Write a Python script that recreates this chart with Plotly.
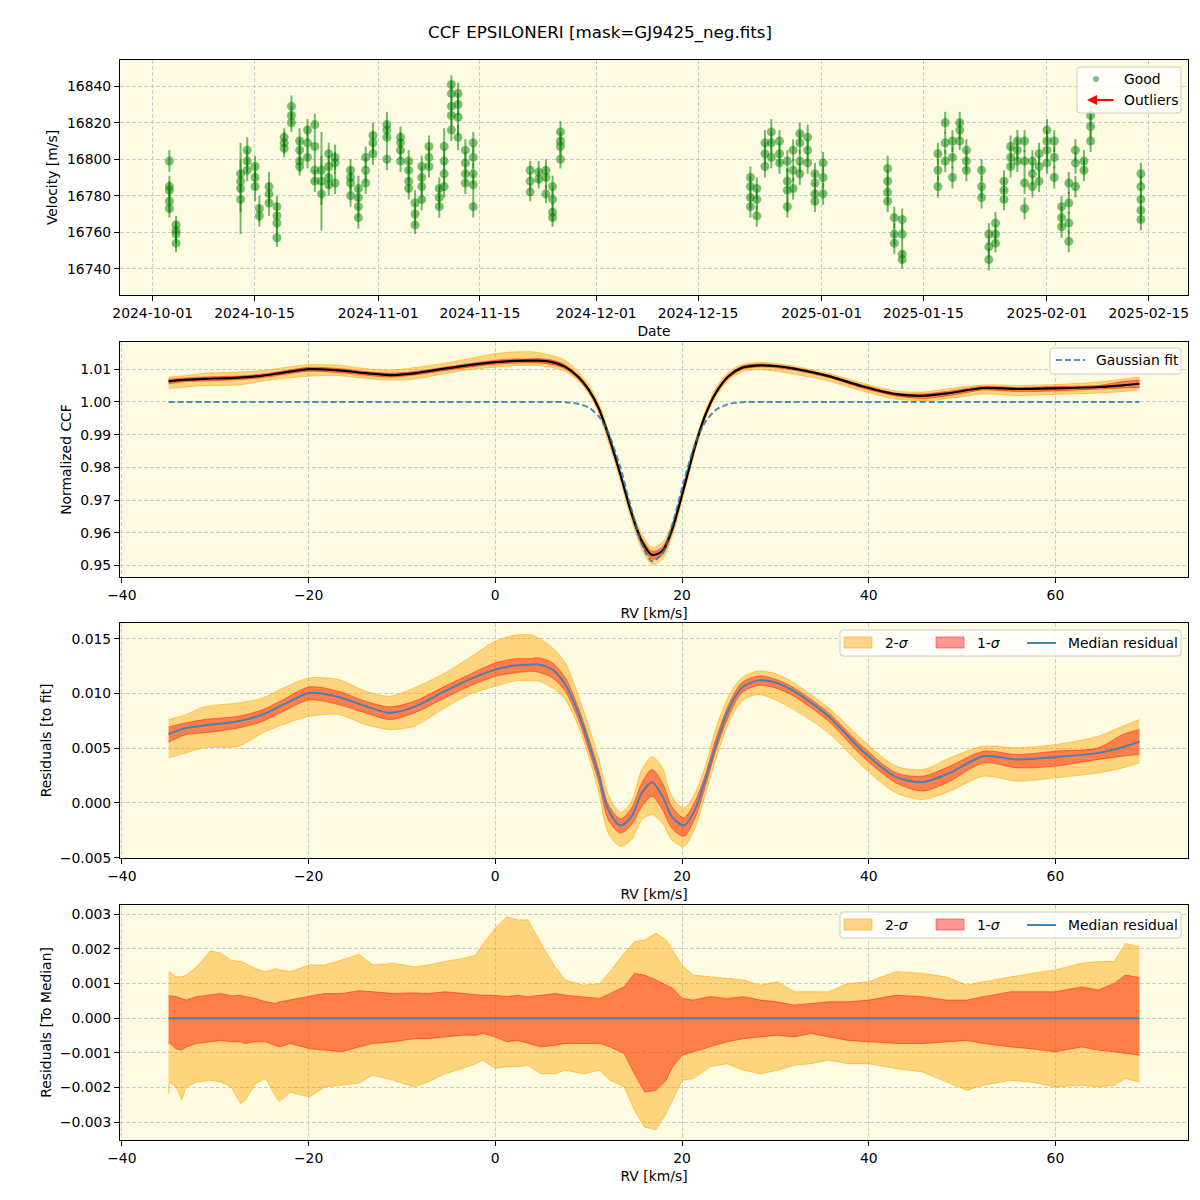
import plotly.graph_objects as go

# ---------------------------------------------------------------- data
TITLE = "CCF EPSILONERI [mask=GJ9425_neg.fits]"

night_dates = [
    "2024-10-03 07:00", "2024-10-04 05:00", "2024-10-13 02:00", "2024-10-14 00:00",
    "2024-10-15 02:00", "2024-10-15 16:00", "2024-10-17 00:00", "2024-10-18 02:00",
    "2024-10-19 02:00", "2024-10-20 02:00", "2024-10-21 05:00", "2024-10-22 07:00",
    "2024-10-23 07:00", "2024-10-24 05:00", "2024-10-25 05:00", "2024-10-26 02:00",
    "2024-10-28 05:00", "2024-10-29 07:00", "2024-10-30 07:00", "2024-10-31 07:00",
    "2024-11-02 05:00", "2024-11-04 02:00", "2024-11-05 05:00", "2024-11-06 02:00",
    "2024-11-07 00:00", "2024-11-08 00:00", "2024-11-09 10:00", "2024-11-10 02:00",
    "2024-11-11 02:00", "2024-11-12 00:00", "2024-11-13 00:00", "2024-11-14 02:00",
    "2024-11-21 22:00", "2024-11-23 02:00", "2024-11-24 02:00", "2024-11-25 00:00",
    "2024-11-26 02:00",
    "2024-12-22 05:00", "2024-12-23 02:00", "2024-12-24 05:00", "2024-12-25 02:00",
    "2024-12-26 05:00", "2024-12-27 07:00", "2024-12-28 02:00", "2024-12-29 00:00",
    "2024-12-30 02:00", "2024-12-31 02:00", "2025-01-01 05:00",
    "2025-01-10 02:00", "2025-01-11 00:00", "2025-01-12 02:00",
    "2025-01-17 00:00", "2025-01-18 00:00", "2025-01-19 00:00", "2025-01-20 00:00",
    "2025-01-20 22:00", "2025-01-23 00:00", "2025-01-24 00:00", "2025-01-24 22:00",
    "2025-01-26 02:00", "2025-01-27 00:00", "2025-01-27 22:00", "2025-01-28 22:00",
    "2025-01-30 00:00", "2025-01-30 22:00", "2025-02-01 00:00", "2025-02-02 00:00",
    "2025-02-03 00:00", "2025-02-04 00:00", "2025-02-04 22:00", "2025-02-06 02:00",
    "2025-02-07 00:00", "2025-02-13 22:00",
]

night_rv = [
    [16799, 16785, 16783, 16777, 16773], [16764, 16761, 16759, 16754],
    [16792, 16788, 16784, 16778], [16805, 16799, 16794],
    [16796, 16790, 16785], [16773, 16769], [16785, 16781, 16776],
    [16774, 16769, 16765, 16757], [16812, 16809, 16806], [16829, 16824, 16820],
    [16810, 16805, 16799, 16796], [16816, 16809, 16801], [16819, 16807, 16794, 16788],
    [16794, 16788, 16781], [16803, 16796, 16790, 16786], [16801, 16798, 16787],
    [16794, 16790, 16787, 16780], [16784, 16779, 16774, 16768], [16801, 16794, 16787],
    [16813, 16809, 16803], [16819, 16816, 16812, 16800], [16812, 16809, 16805, 16799],
    [16799, 16794, 16788, 16784], [16776, 16770, 16764], [16796, 16790, 16785, 16778],
    [16807, 16801, 16796], [16784, 16779, 16774], [16807, 16799, 16792, 16785],
    [16841, 16836, 16829, 16824, 16816], [16836, 16830, 16823, 16812],
    [16805, 16798, 16792, 16787], [16809, 16801, 16792, 16786, 16774],
    [16794, 16788, 16782], [16793, 16789], [16794, 16790, 16781],
    [16785, 16778, 16771, 16768], [16815, 16810, 16807, 16800],
    [16790, 16785, 16779, 16774], [16784, 16778, 16769], [16809, 16803, 16796],
    [16815, 16809, 16801], [16810, 16803, 16798], [16799, 16788, 16783, 16774],
    [16805, 16794, 16784], [16814, 16809, 16799, 16792], [16812, 16805, 16798],
    [16792, 16787, 16781, 16777], [16798, 16790, 16781],
    [16795, 16788, 16782, 16777], [16768, 16759, 16754], [16767, 16759, 16748, 16745],
    [16803, 16794, 16785], [16820, 16809, 16799], [16810, 16801, 16790],
    [16820, 16816, 16810], [16805, 16799, 16794], [16794, 16785, 16779],
    [16759, 16752, 16745], [16765, 16759, 16754], [16788, 16783, 16778],
    [16807, 16801, 16796], [16810, 16805, 16799], [16810, 16799, 16787, 16773],
    [16799, 16792, 16785], [16803, 16796, 16788], [16816, 16810, 16805, 16798],
    [16810, 16801, 16790], [16774, 16768, 16763], [16787, 16776, 16765, 16755],
    [16805, 16798, 16785], [16799, 16794], [16824, 16818, 16810],
    [16792, 16785, 16778, 16772, 16767],
]

night_err = [
    [6, 6, 5, 6, 5], [5, 5, 5, 5], [8, 6, 25, 7], [7, 6, 6], [6, 7, 8], [7, 6],
    [8, 6, 7], [6, 7, 6, 5], [5, 6, 5], [6, 5, 5], [7, 6, 6, 5], [6, 9, 6],
    [6, 6, 7, 6], [8, 27, 6], [6, 6, 6, 6], [7, 6, 6], [6, 6, 6, 6], [7, 6, 6, 6],
    [6, 7, 6], [7, 6, 6], [7, 5, 6, 6], [6, 6, 5, 6], [6, 6, 6, 6], [7, 6, 5],
    [6, 6, 6, 6], [6, 6, 6], [6, 6, 6], [10, 7, 6, 6], [5, 6, 6, 6, 6], [6, 6, 10, 7],
    [6, 6, 6, 6], [6, 6, 6, 6, 6], [5, 5, 5], [6, 5], [6, 6, 5], [6, 6, 5, 5],
    [6, 5, 5, 5],
    [6, 6, 6, 6], [6, 6, 6], [7, 6, 6], [7, 6, 6], [6, 6, 6], [6, 7, 12, 6],
    [6, 6, 6], [6, 6, 6, 6], [7, 6, 6], [6, 6, 6, 6], [6, 6, 6],
    [7, 6, 6, 6], [6, 6, 6], [6, 6, 5, 5],
    [6, 6, 6], [6, 6, 6], [6, 6, 6], [6, 5, 5], [6, 6, 6], [6, 6, 6], [6, 6, 6],
    [6, 5, 5], [6, 6, 6], [6, 6, 6], [6, 6, 6], [6, 6, 6, 6], [6, 6, 6], [6, 6, 6],
    [6, 6, 6, 6], [6, 6, 6], [6, 6, 6], [6, 6, 6, 6], [6, 6, 6], [6, 6], [6, 6, 6],
    [6, 6, 6, 6, 6],
]

date_ticks = ["2024-10-01", "2024-10-15", "2024-11-01", "2024-11-15", "2024-12-01",
              "2024-12-15", "2025-01-01", "2025-01-15", "2025-02-01", "2025-02-15"]

# RV grid (km/s) for CCF and residual-to-fit panels
rv_grid = [-35.0, -33.1, -31.2, -27.5, -24.9, -22.7, -19.9, -16.8, -13.9, -11.3,
           -8.7, -5.4, -2.8, 0.0, 2.0, 3.8, 4.6, 6.1, 7.5, 8.9,
           10.0, 11.1, 12.1, 13.4, 14.6, 15.7, 16.8, 17.9, 18.9, 20.2,
           21.4, 22.5, 23.6, 25.0, 26.4, 28.2, 30.0, 32.0, 35.7, 39.3,
           42.9, 45.8, 48.7, 52.3, 55.9, 60.0, 64.6, 67.2, 69.0]

gauss_fit = [1.0, 1.0, 1.0, 1.0, 1.0, 1.0, 1.0, 1.0, 1.0, 1.0,
             1.0, 1.0, 1.0, 1.0, 1.0, 1.0, 1.0, 1.0, 0.9999, 0.9994,
             0.9983, 0.9955, 0.9906, 0.9799, 0.9671, 0.9565, 0.9513, 0.9538, 0.9619, 0.9758,
             0.9871, 0.9939, 0.9975, 0.9994, 0.9999, 1.0, 1.0, 1.0, 1.0, 1.0,
             1.0, 1.0, 1.0, 1.0, 1.0, 1.0, 1.0, 1.0, 1.0]

res_med = [0.00631, 0.00685, 0.00707, 0.00746, 0.00807, 0.00898, 0.01004, 0.00968, 0.00883, 0.00822,
           0.00877, 0.0102, 0.01126, 0.01217, 0.01254, 0.01263, 0.01265, 0.0122, 0.01082, 0.00823,
           0.00549, 0.00244, -0.00061, -0.00207, -0.00122, 0.00091, 0.00189, 0.00061, -0.00122, -0.00207,
           -0.00061, 0.00213, 0.00518, 0.00854, 0.01052, 0.01119, 0.0110, 0.0102, 0.00792, 0.00479,
           0.00238, 0.0019, 0.00275, 0.00427, 0.00397, 0.00418, 0.00457, 0.00509, 0.00558]

res_1s_hi = [0.00694, 0.00731, 0.00761, 0.00792, 0.00852, 0.00944, 0.0106, 0.0102, 0.00928, 0.00877,
             0.00928, 0.01065, 0.01172, 0.01278, 0.01315, 0.01318, 0.01326, 0.0128, 0.01143, 0.00869,
             0.00594, 0.0029, -0.00015, -0.00146, -0.00046, 0.00183, 0.00305, 0.00183, -0.00031, -0.00137,
             0.00015, 0.00259, 0.00579, 0.00899, 0.01098, 0.01159, 0.0113, 0.0105, 0.00822, 0.00518,
             0.00275, 0.00244, 0.00336, 0.00472, 0.00442, 0.00472, 0.00503, 0.00624, 0.0067]

res_1s_lo = [0.00555, 0.00624, 0.0064, 0.00685, 0.00746, 0.00837, 0.0094, 0.00898, 0.00822, 0.00761,
             0.00822, 0.00959, 0.01065, 0.01156, 0.01187, 0.01202, 0.01195, 0.01143, 0.01021, 0.00762,
             0.00488, 0.00183, -0.00153, -0.00275, -0.00198, -0.00031, 0.00061, -0.00061, -0.00229, -0.00305,
             -0.00137, 0.00152, 0.00472, 0.00793, 0.01006, 0.01073, 0.0105, 0.00974, 0.00746, 0.00427,
             0.00184, 0.00108, 0.00199, 0.00366, 0.0032, 0.00336, 0.00397, 0.00427, 0.00442]

res_2s_hi = [0.00761, 0.00807, 0.00877, 0.00913, 0.00959, 0.0105, 0.01141, 0.01126, 0.0102, 0.00974,
             0.0105, 0.01187, 0.01324, 0.01476, 0.0153, 0.01536, 0.01509, 0.01418, 0.0128, 0.00976,
             0.00701, 0.00396, 0.00076, -0.00085, 0.00015, 0.00305, 0.00421, 0.0032, 0.00061, -0.00046,
             0.00091, 0.00335, 0.00671, 0.00976, 0.01143, 0.01204, 0.0118, 0.01096, 0.00868, 0.00579,
             0.00336, 0.00305, 0.00412, 0.00518, 0.00503, 0.00533, 0.00609, 0.007, 0.00761]

res_2s_lo = [0.00412, 0.00457, 0.00503, 0.00518, 0.0064, 0.00716, 0.00792, 0.00807, 0.00716, 0.0067,
             0.007, 0.00868, 0.00989, 0.01065, 0.01111, 0.01117, 0.01113, 0.01052, 0.00945, 0.00701,
             0.00427, 0.00091, -0.00275, -0.00397, -0.00336, -0.00153, -0.00107, -0.00183, -0.00336, -0.00397,
             -0.00229, 0.00076, 0.00396, 0.00732, 0.0093, 0.00991, 0.0094, 0.00852, 0.0064, 0.00336,
             0.00092, 0.00032, 0.00108, 0.00244, 0.00199, 0.00229, 0.00275, 0.0032, 0.00366]

# RV grid for residuals-to-median panel
rv_grid4 = [-35.0, -34.9, -34.2, -33.6, -33.1, -32.0, -30.5, -29.4, -28.3, -27.3,
            -26.8, -25.7, -24.6, -23.5, -23.1, -22.0, -19.9, -18.3, -16.5, -14.6,
            -13.1, -10.9, -8.7, -7.2, -5.4, -3.5, -2.1, -1.3, 0.0, 1.25,
            2.4, 3.5, 4.9, 6.4, 7.5, 9.4, 11.2, 12.3, 13.8, 14.9,
            16.0, 17.2, 18.3, 19.0, 20.0, 21.2, 23.0, 24.8, 26.6, 28.4,
            30.2, 32.0, 33.8, 35.7, 37.8, 40.0, 42.9, 45.8, 48.3, 50.5,
            52.3, 55.2, 57.4, 60.0, 62.8, 64.6, 66.3, 67.5, 69.0]

med_2s_hi = [0.00129, 0.00134, 0.00119, 0.00119, 0.00124, 0.00148, 0.00194, 0.00187, 0.00167, 0.00163,
             0.00158, 0.00143, 0.00134, 0.00143, 0.00139, 0.00134, 0.00153, 0.00153, 0.00167, 0.00184,
             0.00153, 0.00158, 0.00148, 0.00153, 0.00163, 0.00172, 0.00182, 0.00215, 0.00259, 0.00292,
             0.00283, 0.00283, 0.00215, 0.00148, 0.00110, 0.00095, 0.00100, 0.00134, 0.00187, 0.00220,
             0.00225, 0.00245, 0.00225, 0.00196, 0.00153, 0.00124, 0.00119, 0.00114, 0.00110, 0.00095,
             0.00105, 0.00076, 0.00076, 0.00076, 0.00100, 0.00105, 0.00134, 0.00129, 0.00119, 0.00095,
             0.00105, 0.00119, 0.00129, 0.00139, 0.00158, 0.00163, 0.00163, 0.00215, 0.00206]

med_1s_hi = [0.00066, 0.00064, 0.00062, 0.00057, 0.00052, 0.00062, 0.00066, 0.00071, 0.00064, 0.00066,
             0.00062, 0.00057, 0.00047, 0.00042, 0.00047, 0.00052, 0.00062, 0.00071, 0.00071, 0.00079,
             0.00076, 0.00071, 0.00073, 0.00071, 0.00076, 0.00071, 0.00066, 0.00066, 0.00066, 0.00062,
             0.00066, 0.00062, 0.00066, 0.00071, 0.00066, 0.00062, 0.00057, 0.00071, 0.00090, 0.00129,
             0.00124, 0.00110, 0.00095, 0.00086, 0.00057, 0.00052, 0.00062, 0.00057, 0.00062, 0.00052,
             0.00047, 0.00038, 0.00042, 0.00047, 0.00047, 0.00052, 0.00066, 0.00062, 0.00052, 0.00052,
             0.00062, 0.00076, 0.00076, 0.00076, 0.00090, 0.00081, 0.00100, 0.00124, 0.00117]

med_1s_lo = [-0.00073, -0.00071, -0.00088, -0.00092, -0.00083, -0.00073, -0.00068, -0.00064, -0.00068, -0.00068,
             -0.00073, -0.00068, -0.00068, -0.00078, -0.00083, -0.00073, -0.00088, -0.00092, -0.00097, -0.00083,
             -0.00073, -0.00068, -0.00059, -0.00059, -0.00054, -0.00049, -0.00049, -0.00044, -0.00054, -0.00068,
             -0.00064, -0.00073, -0.00083, -0.00078, -0.00073, -0.00073, -0.00073, -0.00083, -0.00102, -0.00160,
             -0.00213, -0.00208, -0.00179, -0.00140, -0.00107, -0.00097, -0.00083, -0.00068, -0.00059, -0.00054,
             -0.00049, -0.00054, -0.00044, -0.00054, -0.00064, -0.00068, -0.00073, -0.00073, -0.00068, -0.00064,
             -0.00073, -0.00083, -0.00088, -0.00097, -0.00083, -0.00092, -0.00097, -0.00102, -0.00107]

med_2s_lo = [-0.00217, -0.00184, -0.00198, -0.00235, -0.00198, -0.00184, -0.00179, -0.00184, -0.00198, -0.00246,
             -0.00237, -0.00189, -0.00174, -0.00227, -0.00241, -0.00213, -0.00227, -0.00198, -0.00193, -0.00187,
             -0.00164, -0.00179, -0.00198, -0.00184, -0.00160, -0.00145, -0.00131, -0.00121, -0.00145, -0.00140,
             -0.00140, -0.00136, -0.00160, -0.00160, -0.00150, -0.00160, -0.00150, -0.00179, -0.00198, -0.00265,
             -0.00314, -0.00321, -0.00275, -0.00237, -0.00179, -0.00174, -0.00140, -0.00131, -0.00150, -0.00160,
             -0.00150, -0.00136, -0.00131, -0.00121, -0.00131, -0.00131, -0.00145, -0.00155, -0.00184, -0.00208,
             -0.00193, -0.00179, -0.00184, -0.00198, -0.00193, -0.00198, -0.00193, -0.00174, -0.00184]

med_zero = [0.0 for _ in rv_grid4]

# ---------------------------------------------------------------- styles
FONT = "DejaVu Sans"
FS = 13.9
BG = "#FDFBE2"
C2 = "rgba(255,165,0,0.45)"
C2E = "rgba(255,165,0,0.55)"
C1 = "rgba(255,0,0,0.40)"
C1E = "rgba(255,0,0,0.45)"
MEDC = "#4682b4"

W, H = 1200, 1200
ML, MR, MT, MB = 120, 12, 60, 60
PW, PH = W - ML - MR, H - MT - MB


def xp(px):
    return (px - ML) / PW


def yp(py):
    return (H - MB - py) / PH


# ---------------------------------------------------------------- figure
fig = go.Figure()

# panel 1 : RV time series
obs_x = [d for d, vals in zip(night_dates, night_rv) for _ in vals]
obs_y = [v for vals in night_rv for v in vals]
obs_e = [e for errs in night_err for e in errs]
fig.add_trace(go.Scatter(
    x=obs_x, y=obs_y, mode="markers", name="Good", showlegend=False,
    marker=dict(size=9, color="rgba(0,128,0,0.5)", line=dict(width=0)),
    error_y=dict(type="data", array=obs_e, visible=True, color="rgba(0,128,0,0.55)",
                 thickness=2, width=0),
    xaxis="x", yaxis="y"))


def band(xs, lo, hi, fill, edge, xa, ya, shape):
    fig.add_trace(go.Scatter(x=xs, y=lo, mode="lines", showlegend=False,
                             line=dict(color=edge, width=1, shape=shape, smoothing=0.8),
                             xaxis=xa, yaxis=ya, hoverinfo="skip"))
    fig.add_trace(go.Scatter(x=xs, y=hi, mode="lines", showlegend=False, fill="tonexty",
                             fillcolor=fill,
                             line=dict(color=edge, width=1, shape=shape, smoothing=0.8),
                             xaxis=xa, yaxis=ya, hoverinfo="skip"))


# panel 2 : CCF = fit + residual percentiles
ccf_med = [g + r for g, r in zip(gauss_fit, res_med)]
ccf_1lo = [g + r for g, r in zip(gauss_fit, res_1s_lo)]
ccf_1hi = [g + r for g, r in zip(gauss_fit, res_1s_hi)]
ccf_2lo = [g + r for g, r in zip(gauss_fit, res_2s_lo)]
ccf_2hi = [g + r for g, r in zip(gauss_fit, res_2s_hi)]
band(rv_grid, ccf_2lo, ccf_2hi, C2, C2E, "x2", "y2", "spline")
band(rv_grid, ccf_1lo, ccf_1hi, C1, C1E, "x2", "y2", "spline")
fig.add_trace(go.Scatter(x=rv_grid, y=ccf_med, mode="lines", showlegend=False,
                         line=dict(color="black", width=2.2, shape="spline", smoothing=0.8),
                         xaxis="x2", yaxis="y2"))
fig.add_trace(go.Scatter(x=rv_grid, y=gauss_fit, mode="lines", showlegend=False,
                         line=dict(color="rgba(31,119,180,0.8)", width=2, dash="6px,3px",
                                   shape="spline", smoothing=0.8),
                         xaxis="x2", yaxis="y2"))

# panel 3 : residuals to fit
band(rv_grid, res_2s_lo, res_2s_hi, C2, C2E, "x3", "y3", "spline")
band(rv_grid, res_1s_lo, res_1s_hi, C1, C1E, "x3", "y3", "spline")
fig.add_trace(go.Scatter(x=rv_grid, y=res_med, mode="lines", showlegend=False,
                         line=dict(color=MEDC, width=2, shape="spline", smoothing=0.8),
                         xaxis="x3", yaxis="y3"))

# panel 4 : residuals to median
band(rv_grid4, med_2s_lo, med_2s_hi, C2, C2E, "x4", "y4", "linear")
band(rv_grid4, med_1s_lo, med_1s_hi, C1, C1E, "x4", "y4", "linear")
fig.add_trace(go.Scatter(x=rv_grid4, y=med_zero, mode="lines", showlegend=False,
                         line=dict(color=MEDC, width=2), xaxis="x4", yaxis="y4"))


# ---------------------------------------------------------------- axes
def ax(**kw):
    base = dict(showline=True, mirror=True, linecolor="black", linewidth=1,
                ticks="outside", ticklen=5, tickwidth=1, tickcolor="black",
                showgrid=True, gridcolor="#cdcdcd", griddash="4px,2px", gridwidth=1,
                zeroline=False, tickfont=dict(family=FONT, size=FS, color="black"),
                automargin=False)
    base.update(kw)
    return base


def ttl(text, standoff):
    return dict(text=text, font=dict(family=FONT, size=FS, color="black"), standoff=standoff)


dom1 = [yp(295), yp(60)]
dom2 = [yp(577), yp(342)]
dom3 = [yp(858), yp(623)]
dom4 = [yp(1140), yp(905)]
rv_range = [-40.2, 74.2]

fig.update_layout(
    xaxis=ax(type="date", range=["2024-09-26 12:00", "2025-02-20 09:30"],
             tickvals=date_ticks, tickformat="%Y-%m-%d", anchor="y", domain=[0, 1],
             title=ttl("Date", 6)),
    yaxis=ax(range=[16725.6, 16854.4], tick0=16740, dtick=20, tickformat="d",
             domain=dom1, anchor="x", title=ttl("Velocity [m/s]", 6)),
    xaxis2=ax(range=rv_range, tick0=0, dtick=20, anchor="y2", domain=[0, 1],
              title=ttl("RV [km/s]", 6)),
    yaxis2=ax(range=[0.94646, 1.01834], tick0=0.95, dtick=0.01, tickformat=".2f",
              domain=dom2, anchor="x2", title=ttl("Normalized CCF", 5)),
    xaxis3=ax(range=rv_range, tick0=0, dtick=20, anchor="y3", domain=[0, 1],
              title=ttl("RV [km/s]", 6)),
    yaxis3=ax(range=[-0.00503, 0.01643], tick0=0, dtick=0.005, tickformat=".3f",
              domain=dom3, anchor="x3", title=ttl("Residuals [to fit]", 4)),
    xaxis4=ax(range=rv_range, tick0=0, dtick=20, anchor="y4", domain=[0, 1],
              title=ttl("RV [km/s]", 6)),
    yaxis4=ax(range=[-0.00351, 0.00326], tick0=0, dtick=0.001, tickformat=".3f",
              domain=dom4, anchor="x4", title=ttl("Residuals [To Median]", 4)),
)


# ---------------------------------------------------------------- legends (drawn)
def P(px, py):
    return f"{xp(px):.6f},{yp(py):.6f}"


def rbox(x0, y0, x1, y1, r=3):
    path = (f"M {P(x0 + r, y0)} L {P(x1 - r, y0)} Q {P(x1, y0)} {P(x1, y0 + r)} "
            f"L {P(x1, y1 - r)} Q {P(x1, y1)} {P(x1 - r, y1)} L {P(x0 + r, y1)} "
            f"Q {P(x0, y1)} {P(x0, y1 - r)} L {P(x0, y0 + r)} Q {P(x0, y0)} {P(x0 + r, y0)} Z")
    return dict(type="path", path=path, xref="paper", yref="paper",
                fillcolor="rgba(255,255,255,0.8)", line=dict(color="#cccccc", width=1))


def rect(x0, y0, x1, y1, fill, edge):
    return dict(type="rect", xref="paper", yref="paper", x0=xp(x0), x1=xp(x1),
                y0=yp(y1), y1=yp(y0), fillcolor=fill, line=dict(color=edge, width=1))


def seg(x0, x1, y, color, width, dash="solid"):
    return dict(type="line", xref="paper", yref="paper", x0=xp(x0), x1=xp(x1),
                y0=yp(y), y1=yp(y), line=dict(color=color, width=width, dash=dash))


def label(px, py, text):
    return dict(x=xp(px), y=yp(py), xref="paper", yref="paper", text=text,
                showarrow=False, xanchor="left", yanchor="middle",
                font=dict(family=FONT, size=FS, color="black"))


shapes = []
annotations = []

# panel 1 legend
shapes.append(rbox(1077, 67, 1181, 113))
shapes.append(dict(type="circle", xref="paper", yref="paper",
                   x0=xp(1093), x1=xp(1099), y0=yp(82), y1=yp(76),
                   fillcolor="rgba(0,128,0,0.5)", line=dict(width=0)))
annotations.append(label(1122, 79, "Good"))
annotations.append(dict(x=xp(1087), y=yp(100), xref="paper", yref="paper",
                        ax=28, ay=0, axref="pixel", ayref="pixel", text="",
                        showarrow=True, arrowhead=2, arrowsize=1, arrowwidth=2,
                        arrowcolor="red", standoff=0, startstandoff=0))
annotations.append(label(1122, 100, "Outliers"))

# panel 2 legend
shapes.append(rbox(1050, 348, 1181, 374))
shapes.append(seg(1056, 1085, 360, "rgba(31,119,180,0.8)", 2, "6px,3px"))
annotations.append(label(1094, 360, "Gaussian fit"))

# panels 3 & 4 legends
for yc in (643, 925):
    shapes.append(rbox(840, yc - 13, 1181, yc + 13))
    shapes.append(rect(844, yc - 6, 872, yc + 5, C2, C2E))
    shapes.append(rect(936, yc - 6, 964, yc + 5, C1, C1E))
    shapes.append(seg(1027, 1056, yc, MEDC, 2))
    annotations.append(label(883, yc, "2-<i>σ</i>"))
    annotations.append(label(975, yc, "1-<i>σ</i>"))
    annotations.append(label(1066, yc, "Median residual"))

fig.update_layout(
    width=W, height=H,
    margin=dict(l=ML, r=MR, t=MT, b=MB, pad=0),
    paper_bgcolor="white", plot_bgcolor=BG,
    font=dict(family=FONT, size=FS, color="black"),
    title=dict(text=TITLE, x=0.5, xanchor="center", y=1 - 32 / H, yanchor="middle",
               font=dict(family=FONT, size=16.7, color="black")),
    showlegend=False,
    shapes=shapes, annotations=annotations,
)

fig.write_html("out.html")
